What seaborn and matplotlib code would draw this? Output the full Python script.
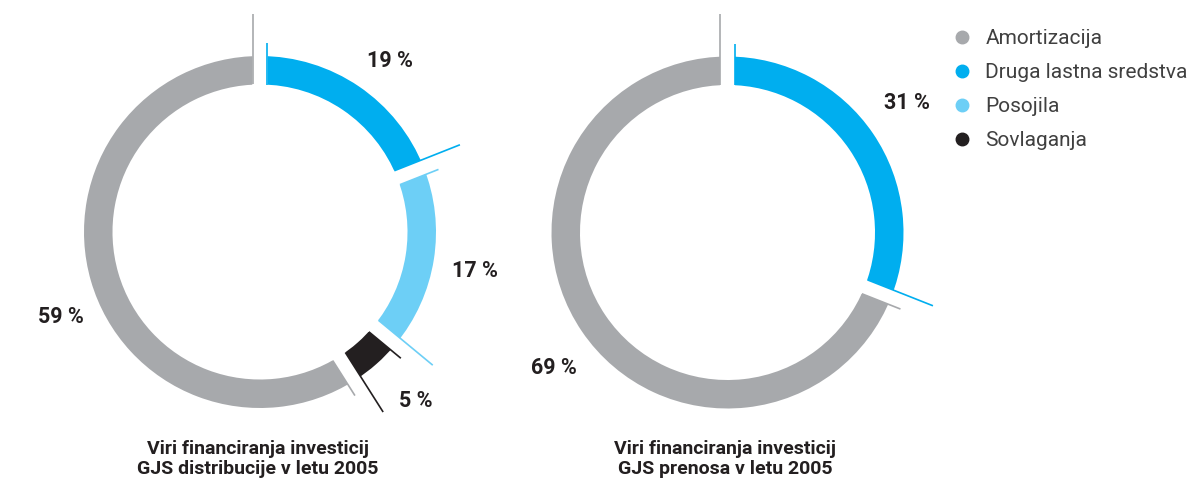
import numpy as np
import matplotlib
matplotlib.use("Agg")
import matplotlib.pyplot as plt
from matplotlib.lines import Line2D
import seaborn as sns

# data
categories = ["Amortizacija", "Druga lastna sredstva", "Posojila", "Sovlaganja"]
distribucija = [59, 19, 17, 5]
prenos = [69, 31, 0, 0]
draw_order = ["Druga lastna sredstva", "Posojila", "Sovlaganja", "Amortizacija"]
titles = ["Viri financiranja investicij\nGJS distribucije v letu 2005",
          "Viri financiranja investicij\nGJS prenosa v letu 2005"]

palette = dict(zip(categories, sns.color_palette(["#A7A9AC", "#00AEEF", "#6DCFF6", "#231F20"])))
dark = "#231F20"

sns.set_theme(style="white")
plt.rcParams["font.family"] = ["Roboto", "DejaVu Sans"]

W, H = 1195, 479
fig = plt.figure(figsize=(W / 100, H / 100), dpi=100)
ax = fig.add_axes([0, 0, 1, 1])

R = 176      # outer radius (px)
ring = 28.5  # visible ring thickness (px)
gap = 15     # white gap between slices (px)
centers = [(260, H - 232), (727.5, H - 232.5)]
label_r = [1.24, 1.25]
# small hand nudges (px) for the percent labels, in draw order
nudges = [[(7, -10), (-1, -5), (11, -5), (10, -24)],
          [(-3, 6), (8, -12)]]


def donut(ax, shares, center, title, lr, nudge):
    vals = [shares[categories.index(c)] for c in draw_order]
    cats = [c for c, v in zip(draw_order, vals) if v > 0]
    vals = [v for v in vals if v > 0]
    cols = [palette[c] for c in cats]
    # white edge of width `gap` makes the separators; enlarge wedge so the visible ring stays right
    wedges, _ = ax.pie(vals, colors=cols, startangle=90, counterclock=False,
                       radius=R + gap / 2, center=center,
                       wedgeprops=dict(width=ring + gap, linewidth=gap * 0.72,
                                       edgecolor="white", joinstyle="miter"),
                       frame=True)
    cx, cy = center
    for w, v, c, (ndx, ndy) in zip(wedges, vals, cols, nudge):
        # long tick at clockwise end (theta1), short tick at clockwise start (theta2)
        for th, ext, side in ((w.theta1, 42, 1), (w.theta2, 13, -1)):
            t = np.deg2rad(th)
            u = np.array([np.cos(t), np.sin(t)])
            n = np.array([-np.sin(t), np.cos(t)]) * side * (gap / 2)
            p0 = np.array([cx, cy]) + n + u * (R - ring)
            p1 = np.array([cx, cy]) + n + u * (R + ext)
            ax.plot([p0[0], p1[0]], [p0[1], p1[1]], color=c, lw=1.2,
                    solid_capstyle="butt")
        tm = np.deg2rad((w.theta1 + w.theta2) / 2)
        ax.text(cx + lr * R * np.cos(tm) + ndx, cy + lr * R * np.sin(tm) + ndy,
                f"{v} %", ha="center", va="center", fontsize=15.5,
                fontweight="bold", color=dark)
    ax.text(cx - 2, 20, title, ha="center", va="center", fontsize=14,
            fontweight="bold", color=dark, linespacing=1.2)


for shares, center, title, lr, nudge in zip([distribucija, prenos], centers, titles,
                                            label_r, nudges):
    donut(ax, shares, center, title, lr, nudge)

ax.set_xlim(0, W)
ax.set_ylim(0, H)
ax.set_aspect("equal")
ax.axis("off")

handles = [Line2D([], [], ls="", marker="o", markersize=9, color=palette[c]) for c in categories]
ax.legend(handles, categories, loc="upper left", bbox_to_anchor=(952 / W, 1 - 29 / H),
          frameon=False, fontsize=15, labelcolor="#404040", handlelength=1.0,
          handletextpad=0.6, labelspacing=0.72, borderpad=0, borderaxespad=0)

fig.savefig("out.png", dpi=100)
